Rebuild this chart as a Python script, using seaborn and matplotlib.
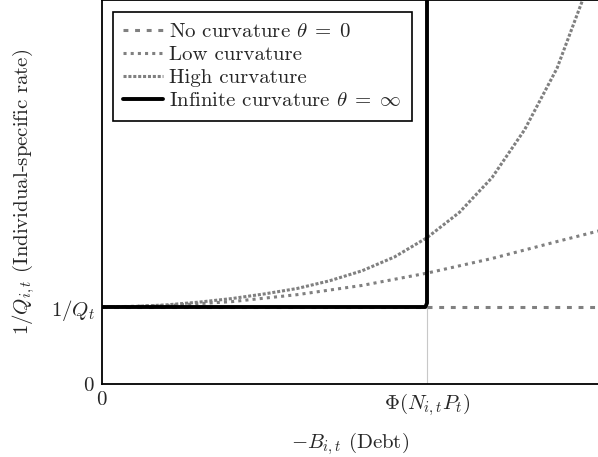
import numpy as np
import pandas as pd
import matplotlib
matplotlib.use("Agg")
import matplotlib.pyplot as plt
import seaborn as sns

# Data (x in units of Phi(N P), y in units of 1/Q_t)
none_x = [0.0, 1.0, 1.53]
none_y = [1.0, 1.0, 1.0]

low_x = [0.0, 0.2, 0.4, 0.6, 0.8, 1.0, 1.2, 1.4, 1.53]
low_y = [1.0, 1.018, 1.07, 1.16, 1.28, 1.44, 1.63, 1.85, 1.99]

high_x = [0.0, 0.1, 0.2, 0.3, 0.4, 0.5, 0.6, 0.7, 0.8, 0.9, 1.0,
          1.1, 1.2, 1.3, 1.4, 1.48, 1.53]
high_y = [1.0, 1.007, 1.028, 1.064, 1.11, 1.17, 1.24, 1.34, 1.47, 1.65, 1.9,
          2.23, 2.68, 3.3, 4.1, 5.0, 5.6]

inf_x = [0.0, 0.995, 1.0, 1.0]
inf_y = [1.0, 1.0, 1.05, 5.2]

labels = [r"No curvature $\theta\;=\;0$", "Low curvature", "High curvature",
          r"Infinite curvature $\theta\;=\;\infty$"]
xticks = [0.0, 1.0]
xticklabels = [r"$0$", r"$\Phi(N_{i,t}P_t)$"]
yticks = [0.0, 1.0]
yticklabels = [r"$0$", r"$1/Q_t$"]

sns.set_style("white")
plt.rcParams["font.family"] = "serif"
plt.rcParams["font.serif"] = ["cmr10", "DejaVu Serif"]
plt.rcParams["mathtext.fontset"] = "cm"
plt.rcParams["axes.formatter.use_mathtext"] = True
plt.rcParams["font.size"] = 15

fig = plt.figure(figsize=(5.98, 4.57), dpi=100)
ax = fig.add_axes([102 / 598, 73 / 457, 496 / 598, 384 / 457])

grey = "#808080"
ax.axvline(1.0, ymin=0, ymax=1, color="#c8c8c8", lw=0.8, zorder=1)

df_none = pd.DataFrame({"x": none_x, "y": none_y})
df_low = pd.DataFrame({"x": low_x, "y": low_y})
df_high = pd.DataFrame({"x": high_x, "y": high_y})
df_inf = pd.DataFrame({"x": inf_x, "y": inf_y})

lw = 2.2
sns.lineplot(data=df_none, x="x", y="y", ax=ax, color=grey, lw=lw, estimator=None,
             linestyle=(0, (1.6, 2.2)), sort=False, label=labels[0], zorder=2)
sns.lineplot(data=df_low, x="x", y="y", ax=ax, color=grey, lw=lw, estimator=None,
             linestyle=(0, (1.0, 1.35)), sort=False, label=labels[1], zorder=2)
sns.lineplot(data=df_high, x="x", y="y", ax=ax, color=grey, lw=lw, estimator=None,
             linestyle=(0, (1.0, 0.6)), sort=False, label=labels[2], zorder=2)
sns.lineplot(data=df_inf, x="x", y="y", ax=ax, color="black", lw=2.8, estimator=None,
             linestyle="-", sort=False, label=labels[3], zorder=3)

ax.set_xlim(0, 496 / 325)
ax.set_ylim(0, 384 / 77)
ax.set_xticks(xticks)
ax.set_xticklabels(xticklabels)
ax.set_yticks(yticks)
ax.set_yticklabels(yticklabels)
ax.tick_params(axis="both", length=0, pad=5, labelsize=15)

for s in ["left", "bottom", "top"]:
    ax.spines[s].set_color("black")
    ax.spines[s].set_linewidth(1.3)
ax.spines["right"].set_visible(False)

ax.set_xlabel(r"$-B_{i,t}$ (Debt)", fontsize=15, labelpad=9)
ax.set_ylabel(r"$1/Q_{i,t}$ (Individual-specific rate)", fontsize=15, labelpad=10)

leg = ax.legend(loc="upper left", bbox_to_anchor=(0.022, 0.969), frameon=True,
                fancybox=False, edgecolor="black", framealpha=1,
                fontsize=15, handlelength=1.9, handletextpad=0.3,
                labelspacing=0.22, borderpad=0.5, borderaxespad=0)
leg.get_frame().set_linewidth(1.2)

fig.savefig("out.png", dpi=100)
